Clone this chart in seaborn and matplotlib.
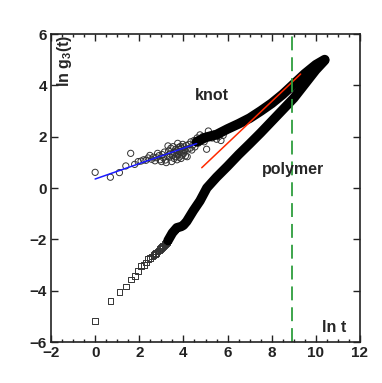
import matplotlib
matplotlib.use("Agg")
import matplotlib.pyplot as plt
import seaborn as sns
import pandas as pd
from matplotlib.ticker import MultipleLocator

# ---- data ----
knot_x = [0.00, 0.69, 1.10, 1.39, 1.61, 1.79, 1.95, 2.08, 2.20, 2.30, 2.40, 2.48, 2.56, 2.64,
          2.71, 2.77, 2.83, 2.89, 2.94, 3.00, 3.04, 3.09, 3.14, 3.18, 3.22, 3.26, 3.30, 3.33,
          3.37, 3.40, 3.43, 3.47, 3.50, 3.53, 3.56, 3.58, 3.61, 3.64, 3.66, 3.69, 3.71, 3.74,
          3.76, 3.78, 3.81, 3.83, 3.85, 3.87, 3.89, 3.91, 3.93, 3.95, 3.97, 3.99, 4.01, 4.03,
          4.06, 4.09, 4.13, 4.17, 4.20, 4.25, 4.30, 4.34, 4.38, 4.43, 4.48, 4.52, 4.57, 4.62,
          4.68, 4.75, 4.80, 4.87, 4.94, 5.01, 5.05, 5.13, 5.20, 5.30, 5.40, 5.50, 5.60, 5.70, 5.80]
knot_y = [0.61, 0.42, 0.60, 0.86, 1.35, 0.92, 1.03, 1.05, 1.10, 1.08, 1.17, 1.27, 1.12, 1.20,
          1.06, 1.18, 1.35, 1.26, 1.10, 1.03, 1.30, 1.18, 1.40, 1.09, 0.99, 1.25, 1.64, 1.45,
          1.20, 1.32, 1.55, 1.03, 1.28, 1.61, 1.40, 1.15, 1.35, 1.50, 1.22, 1.45, 1.10, 1.74,
          1.30, 1.58, 1.20, 1.42, 1.51, 1.62, 1.15, 1.38, 1.55, 1.28, 1.70, 1.45, 1.35, 1.60,
          1.48, 1.25, 1.66, 1.22, 1.52, 1.70, 1.55, 1.80, 1.48, 1.68, 1.85, 1.60, 1.78, 1.95,
          1.75, 2.07, 1.87, 2.00, 1.80, 1.95, 1.51, 2.22, 2.05, 1.95, 2.10, 1.90, 2.00, 1.85, 2.05]
knot_band_x = [4.6, 5.0, 5.5, 6.0, 6.5, 7.0, 7.5, 8.0, 8.5, 9.0, 9.5, 10.0, 10.4]
knot_band_y = [1.80, 1.97, 2.08, 2.30, 2.50, 2.72, 3.00, 3.30, 3.65, 4.05, 4.45, 4.80, 5.00]

poly_x = [0.00, 0.69, 1.10, 1.39, 1.61, 1.79, 1.95, 2.08, 2.20, 2.30, 2.40, 2.48, 2.56, 2.64,
          2.71, 2.77, 2.83, 2.89, 2.94, 3.00, 3.04, 3.09, 3.14, 3.18, 3.22, 3.26, 3.30]
poly_y = [-5.18, -4.40, -4.05, -3.84, -3.57, -3.43, -3.24, -3.04, -2.99, -2.90, -2.78, -2.73,
          -2.67, -2.62, -2.57, -2.52, -2.47, -2.43, -2.39, -2.33, -2.30, -2.27, -2.22, -2.18,
          -2.14, -2.10, -2.05]
poly_band_x = [3.3, 3.5, 3.7, 3.9, 4.0, 4.15, 4.45, 4.75, 5.06, 5.5, 6.0, 6.5, 7.0, 7.5,
               8.0, 8.5, 9.0, 9.5, 10.0, 10.4]
poly_band_y = [-2.05, -1.75, -1.55, -1.50, -1.45, -1.30, -0.88, -0.50, 0.00, 0.42, 0.85,
               1.30, 1.72, 2.15, 2.60, 3.05, 3.50, 4.05, 4.60, 4.97]

blue_x = [0.0, 4.6]
blue_y = [0.35, 1.73]
red_x = [4.83, 9.31]
red_y = [0.79, 4.44]
vline_x = 8.91

x_ticks = [-2, 0, 2, 4, 6, 8, 10, 12]
y_ticks = [-6, -4, -2, 0, 2, 4, 6]

# ---- style ----
sns.set_style("ticks")
plt.rcParams['font.family'] = ['Liberation Sans', 'DejaVu Sans']
plt.rcParams['font.weight'] = 'bold'
plt.rcParams['mathtext.fontset'] = 'custom'
plt.rcParams['mathtext.rm'] = 'Liberation Sans:bold'
plt.rcParams['mathtext.bf'] = 'Liberation Sans:bold'
plt.rcParams['lines.scale_dashes'] = False

fig = plt.figure(figsize=(3.82, 3.83), dpi=100)
ax = fig.add_axes([51/382, 1-342/383, 309/382, 308/383])

# dense bands
sns.lineplot(x=poly_band_x, y=poly_band_y, ax=ax, color='black', lw=6.8, sort=False,
             estimator=None, solid_capstyle='round')
sns.lineplot(x=knot_band_x, y=knot_band_y, ax=ax, color='black', lw=7.0, sort=False,
             estimator=None, solid_capstyle='round')

# sparse markers
sns.scatterplot(x=knot_x, y=knot_y, ax=ax, marker='o', s=20, facecolor='none',
                edgecolor='#333333', linewidth=0.7)
sns.scatterplot(x=poly_x, y=poly_y, ax=ax, marker='s', s=17, facecolor='none',
                edgecolor='#333333', linewidth=0.7)

# fit lines
sns.lineplot(x=blue_x, y=blue_y, ax=ax, color='#1a1aff', lw=1.1, sort=False, estimator=None)
sns.lineplot(x=red_x, y=red_y, ax=ax, color='#ff2a00', lw=1.1, sort=False, estimator=None)

ax.axvline(vline_x, color='#2e9e3e', lw=1.3, dashes=(10, 5))

ax.set_xlim(-2, 12)
ax.set_ylim(-6, 6)
ax.set_xticks(x_ticks)
ax.set_yticks(y_ticks)
ax.xaxis.set_minor_locator(MultipleLocator(0.5))
ax.tick_params(which='both', direction='in', top=True, right=True, colors='#222222',
               labelsize=11, width=1.0)
ax.tick_params(which='major', length=5, pad=3)
ax.tick_params(which='minor', length=2.5)
for lab in ax.get_xticklabels() + ax.get_yticklabels():
    lab.set_fontweight('bold')
for sp in ax.spines.values():
    sp.set_linewidth(1.2)
    sp.set_color('#222222')

ax.set_xlabel('')
ax.set_ylabel('')

ax.text(5.30, 3.62, 'knot', ha='center', va='center', fontsize=11.5, fontweight='bold')
ax.text(8.98, 0.74, 'polymer', ha='center', va='center', fontsize=11.5, fontweight='bold')
ax.text(10.84, -5.43, 'ln t', ha='center', va='center', fontsize=11.5, fontweight='bold')
ax.text(-1.37, 5.97, r'ln g$_{3}$(t)', rotation=90, ha='center', va='top',
        fontsize=11.5, fontweight='bold')

fig.savefig('out.png', dpi=100)
